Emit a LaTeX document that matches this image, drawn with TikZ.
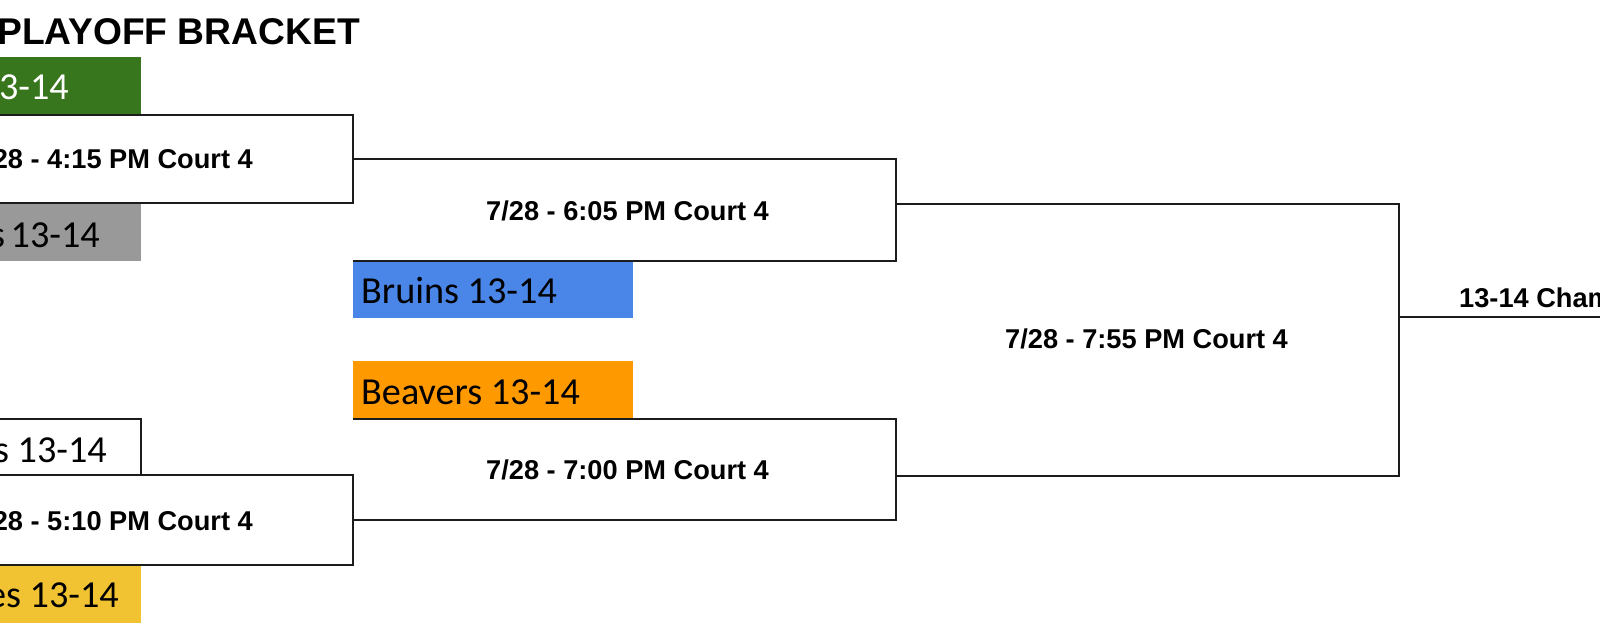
\documentclass[tikz,border=0pt]{standalone}
\usepackage{fontspec}
\setmainfont{Liberation Sans}
\newfontfamily\teamfont{Carlito}
\definecolor{tgreen}{HTML}{38761D}
\definecolor{tgray}{HTML}{999999}
\definecolor{tblue}{HTML}{4A86E8}
\definecolor{torange}{HTML}{FF9900}
\definecolor{tyellow}{HTML}{F1C232}
\definecolor{linec}{HTML}{1C1C1C}
\tikzset{
  bline/.style={draw=linec,line width=1.7pt,line join=miter},
  gametext/.style={inner sep=0pt,font=\bfseries\fontsize{27.2}{27.2}\selectfont},
  teamtext/.style={inner sep=0pt,font=\teamfont\fontsize{38.2}{38.2}\selectfont},
  titletext/.style={inner sep=0pt,font=\bfseries\fontsize{37.2}{37.2}\selectfont},
}
\begin{document}
\begin{tikzpicture}[x=1pt,y=-1pt]
\useasboundingbox (0,0) rectangle (1600,623);
\clip (0,0) rectangle (1600,623);
\fill[white] (0,0) rectangle (1600,623);

% team boxes
\fill[tgreen] (-10,57) rectangle (141,115);
\fill[tgray] (-10,203) rectangle (141,261);
\fill[white] (-10,419) rectangle (141,475);
\fill[tyellow] (-10,565) rectangle (141,640);
\fill[tblue] (353,261) rectangle (633,318);
\fill[torange] (353,361) rectangle (633,419);

% coordinates
\coordinate (a1) at (-10,115); \coordinate (a2) at (353,115);
\coordinate (a3) at (353,203); \coordinate (a4) at (-10,203);
\coordinate (a5) at (353,159);
\coordinate (b1) at (896,159); \coordinate (b2) at (896,261);
\coordinate (b3) at (353,261); \coordinate (b4) at (896,204);
\coordinate (c1) at (1399,204); \coordinate (c2) at (1399,476);
\coordinate (c3) at (896,476); \coordinate (c4) at (1399,317);
\coordinate (c5) at (1610,317);
\coordinate (d1) at (353,419); \coordinate (d2) at (896,419);
\coordinate (d3) at (896,520); \coordinate (d4) at (353,520);
\coordinate (w1) at (-10,419); \coordinate (w2) at (141,419);
\coordinate (w3) at (141,475);
\coordinate (e1) at (-10,475); \coordinate (e2) at (353,475);
\coordinate (e3) at (353,565); \coordinate (e4) at (-10,565);

% bracket lines
\draw[bline] (a1) -- (a2) -- (a3) -- (a4);
\draw[bline] (a5) -- (b1) -- (b2) -- (b3);
\draw[bline] (b4) -- (c1) -- (c2) -- (c3);
\draw[bline] (c4) -- (c5);
\draw[bline] (d1) -- (d2) -- (d3) -- (d4);
\draw[bline] (w1) -- (w2) -- (w3);
\draw[bline] (e1) -- (e2) -- (e3) -- (e4);

% texts
\node[titletext,anchor=base east] (title) at (360,45) {PLAYOFF BRACKET};
\node[teamtext,text=white,anchor=base east] (t1) at (69,100) {3-14};
\node[gametext,anchor=base east] (m1) at (253,168) {28 - 4:15 PM Court 4};
\node[teamtext,anchor=base east] (t2) at (100,247) {s\hspace{-3pt} 13-14};
\node[teamtext,anchor=base east] (t3) at (107,462) {s 13-14};
\node[gametext,anchor=base east] (m3) at (253,530) {28 - 5:10 PM Court 4};
\node[teamtext,anchor=base east] (t4) at (119,607) {es 13-14};
\node[gametext,anchor=base west] (r1) at (486,220) {7/28 - 6:05 PM Court 4};
\node[teamtext,anchor=base west] (bruins) at (361,303) {Bruins 13-14};
\node[teamtext,anchor=base west] (beavers) at (361,404) {Beavers 13-14};
\node[gametext,anchor=base west] (r2) at (486,479) {7/28 - 7:00 PM Court 4};
\node[gametext,anchor=base west] (fin) at (1005,348) {7/28 - 7:55 PM Court 4};
\node[gametext,anchor=base west] (champ) at (1459,307) {13-14 Cham};
\end{tikzpicture}
\end{document}
